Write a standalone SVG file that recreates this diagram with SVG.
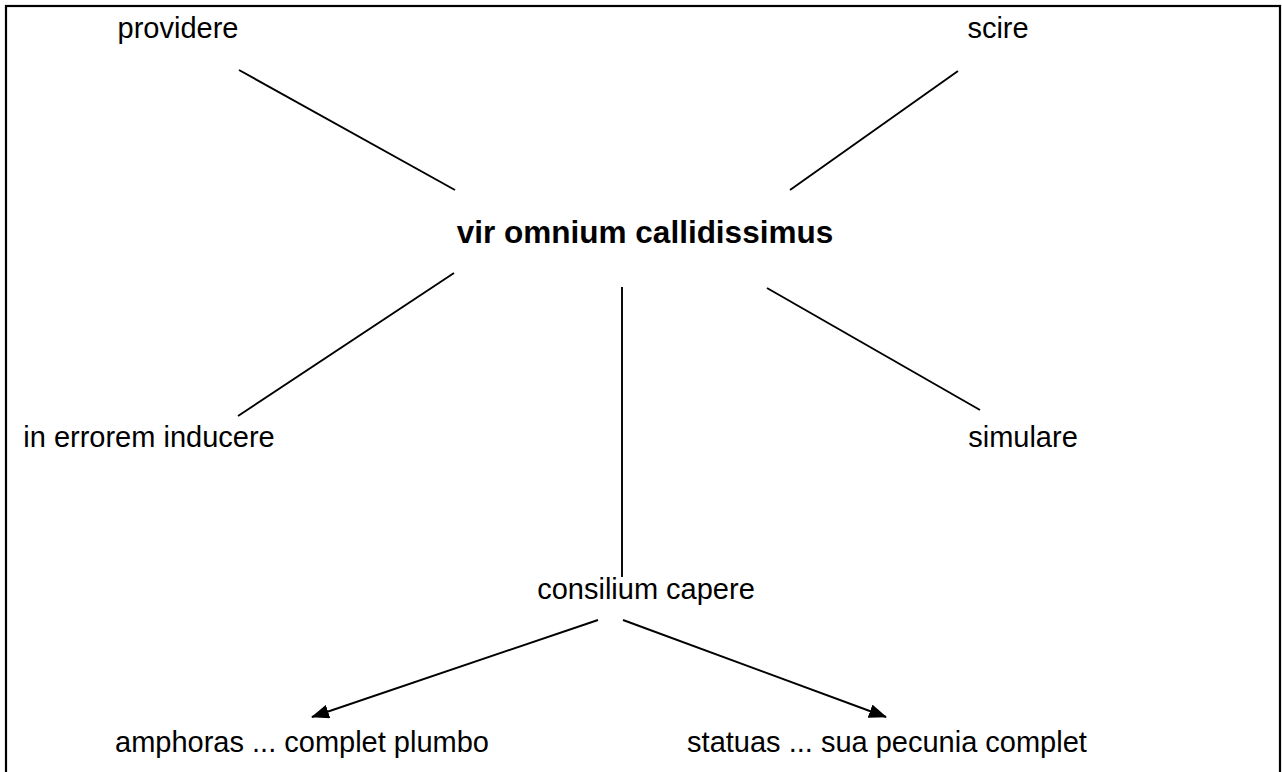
<svg xmlns="http://www.w3.org/2000/svg" width="1282" height="772" viewBox="0 0 1282 772">
<style>
text{font-family:"Liberation Sans",Arial,sans-serif;font-size:29px;fill:#000;text-anchor:middle}
.title{font-weight:bold;font-size:31.5px}
.c line{stroke:#000;stroke-width:1.9}
</style>
<defs>
<marker id="ah" markerUnits="userSpaceOnUse" markerWidth="18" markerHeight="14" refX="17" refY="7" orient="auto">
<path d="M0,0 L18,7 L0,14 z" fill="#000"/>
</marker>
</defs>
<rect x="0" y="0" width="1282" height="772" fill="#fff"/>
<rect x="6" y="6" width="1274" height="800" fill="none" stroke="#000" stroke-width="2.2"/>
<g class="c" id="connectors">
<line x1="239" y1="70" x2="455" y2="190"/>
<line x1="958" y1="71" x2="790" y2="190"/>
<line x1="454" y1="273" x2="238" y2="416"/>
<line x1="622" y1="287" x2="622" y2="577"/>
<line x1="767" y1="288" x2="980" y2="410"/>
<line x1="598" y1="620" x2="312" y2="717" marker-end="url(#ah)"/>
<line x1="623" y1="620" x2="886" y2="717" marker-end="url(#ah)"/>
</g>
<g id="n-providere"><text x="178" y="38">providere</text></g>
<g id="n-scire"><text x="998" y="38">scire</text></g>
<g id="n-vir"><text class="title" x="645" y="243">vir omnium callidissimus</text></g>
<g id="n-in-errorem"><text x="149" y="447">in errorem inducere</text></g>
<g id="n-simulare"><text x="1023" y="447">simulare</text></g>
<g id="n-consilium"><text x="646" y="599">consilium capere</text></g>
<g id="n-amphoras"><text x="302" y="752">amphoras ... complet plumbo</text></g>
<g id="n-statuas"><text x="887" y="752">statuas ... sua pecunia complet</text></g>
</svg>
